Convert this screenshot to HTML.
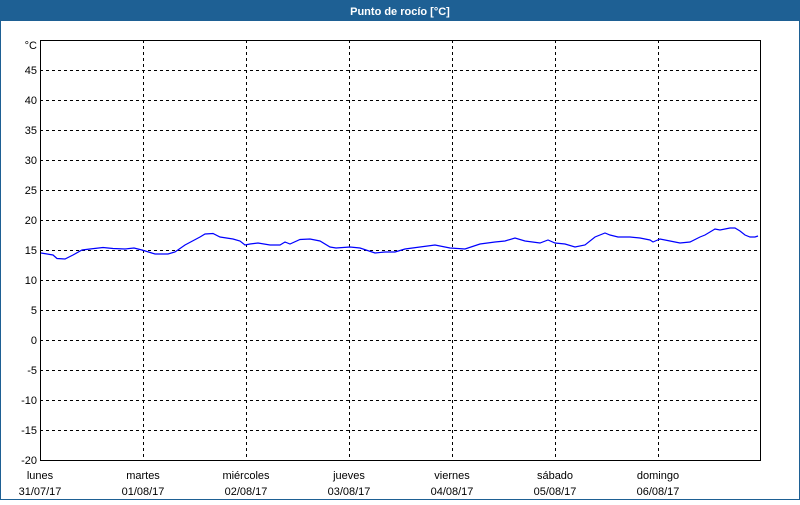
<!DOCTYPE html>
<html><head><meta charset="utf-8"><style>
body{margin:0;width:800px;height:500px;overflow:hidden;background:#fff;font-family:"Liberation Sans",sans-serif}
</style></head><body>
<svg width="800" height="500" xmlns="http://www.w3.org/2000/svg" font-family="Liberation Sans, sans-serif" font-size="11">
<rect x="0" y="0" width="800" height="500" fill="#fff"/>
<rect x="0.5" y="0.5" width="799" height="499" fill="none" stroke="#1e6094"/>
<rect x="0" y="0" width="800" height="21" fill="#1e6094"/>
<text x="400" y="15" fill="#fff" font-weight="bold" text-anchor="middle">Punto de rocío [°C]</text>
<g stroke="#000" stroke-dasharray="3,3" stroke-width="1">
<line x1="40" x2="760" y1="70.5" y2="70.5"/><line x1="40" x2="760" y1="100.5" y2="100.5"/>
<line x1="40" x2="760" y1="130.5" y2="130.5"/><line x1="40" x2="760" y1="160.5" y2="160.5"/>
<line x1="40" x2="760" y1="190.5" y2="190.5"/><line x1="40" x2="760" y1="220.5" y2="220.5"/>
<line x1="40" x2="760" y1="250.5" y2="250.5"/><line x1="40" x2="760" y1="280.5" y2="280.5"/>
<line x1="40" x2="760" y1="310.5" y2="310.5"/><line x1="40" x2="760" y1="340.5" y2="340.5"/>
<line x1="40" x2="760" y1="370.5" y2="370.5"/><line x1="40" x2="760" y1="400.5" y2="400.5"/>
<line x1="40" x2="760" y1="430.5" y2="430.5"/>
<line y1="40" y2="461" x1="143.5" x2="143.5"/><line y1="40" y2="461" x1="246.5" x2="246.5"/>
<line y1="40" y2="461" x1="349.5" x2="349.5"/><line y1="40" y2="461" x1="452.5" x2="452.5"/>
<line y1="40" y2="461" x1="555.5" x2="555.5"/><line y1="40" y2="461" x1="658.5" x2="658.5"/>
</g>
<rect x="40.5" y="40.5" width="720" height="420" fill="none" stroke="#000"/>
<g fill="#000" text-anchor="end">
<text x="37" y="49">°C</text>
<text x="37" y="74">45</text><text x="37" y="104">40</text><text x="37" y="134">35</text>
<text x="37" y="164">30</text><text x="37" y="194">25</text><text x="37" y="224">20</text>
<text x="37" y="254">15</text><text x="37" y="284">10</text><text x="37" y="314">5</text>
<text x="37" y="344">0</text><text x="37" y="374">-5</text><text x="37" y="404">-10</text>
<text x="37" y="434">-15</text><text x="37" y="464">-20</text>
</g>
<g fill="#000" text-anchor="middle">
<text x="40" y="479">lunes</text><text x="40" y="495">31/07/17</text>
<text x="143" y="479">martes</text><text x="143" y="495">01/08/17</text>
<text x="246" y="479">miércoles</text><text x="246" y="495">02/08/17</text>
<text x="349" y="479">jueves</text><text x="349" y="495">03/08/17</text>
<text x="452" y="479">viernes</text><text x="452" y="495">04/08/17</text>
<text x="555" y="479">sábado</text><text x="555" y="495">05/08/17</text>
<text x="658" y="479">domingo</text><text x="658" y="495">06/08/17</text>
</g>
<polyline fill="none" stroke="#0000ff" stroke-width="1.2" points="41,253 53,255 57,258.5 65,259 73,255 82,250 90,249 103,247.5 113,248.5 125,249 134,248 142,250 155,254 168,254 175,252 185,245 200,237 205,234 213,233.5 220,237 233,239 240,241 245,245 250,244 258,243 270,245 280,245 285,242 290,244 300,239.5 310,239 320,241 330,247 336,248 350,247 360,248 375,253 385,252 395,252 405,249 420,247 435,245 450,248 465,249 480,244 495,242 505,241 515,238 525,241 540,243 548,240 555,243 565,244 575,247 585,245 595,237 605,233 610,235 618,237 630,237 640,238 650,240 653,242 660,239 670,241 680,243 690,242 700,237 705,235 715,229 720,230 730,228 735,228 740,231 745,235 750,237 755,237 758,236"/>
</svg>
</body></html>
